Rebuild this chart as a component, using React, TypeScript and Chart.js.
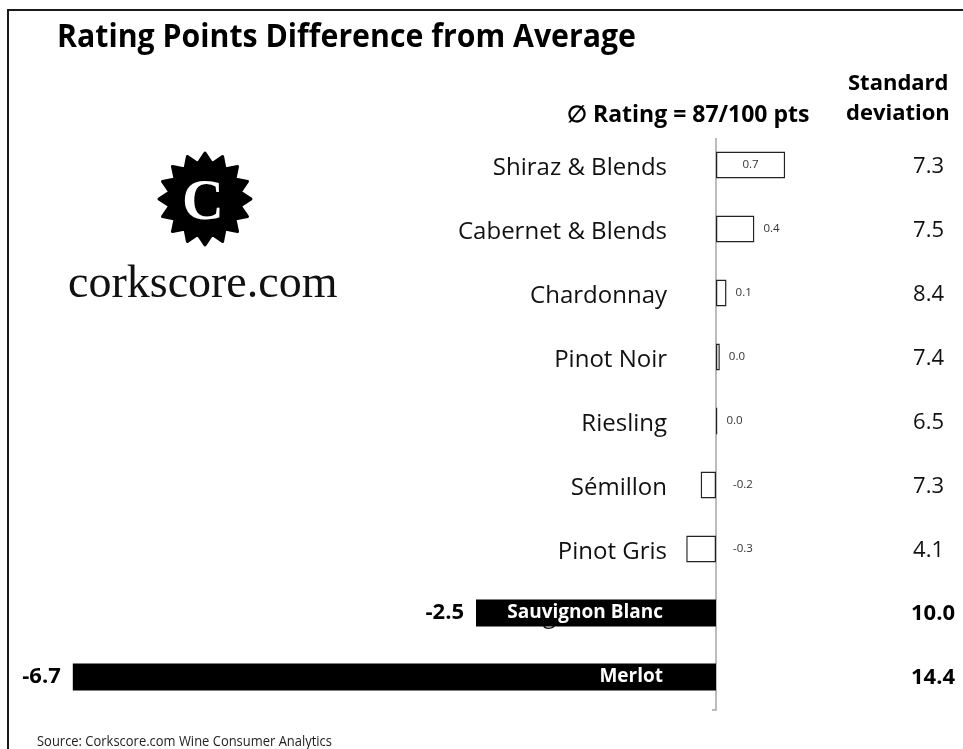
import { useEffect, useRef } from "react";
import { Chart, registerables } from "chart.js";

Chart.register(...registerables);

const categories = [
  "Shiraz & Blends",
  "Cabernet & Blends",
  "Chardonnay",
  "Pinot Noir",
  "Riesling",
  "Sémillon",
  "Pinot Gris",
  "Sauvignon Blanc",
  "Merlot",
];
const diffValues = [0.72, 0.4, 0.11, 0.04, 0.015, -0.16, -0.31, -2.5, -6.7];
const diffLabels = ["0.7", "0.4", "0.1", "0.0", "0.0", "-0.2", "-0.3", "-2.5", "-6.7"];
const stdDevLabels = ["7.3", "7.5", "8.4", "7.4", "6.5", "7.3", "4.1", "10.0", "14.4"];
const titleText = "Rating Points Difference from Average";
const avgHeader = "\u2205 Rating = 87/100 pts";
const sdHeader = ["Standard", "deviation"];
const sourceText = "Source: Corkscore.com Wine Consumer Analytics";
const brandText = "corkscore.com";
const highlightThreshold = -1;

const FONT = '"Open Sans", "Noto Sans", sans-serif';

function drawLogo(ctx: CanvasRenderingContext2D) {
  const cx = 205;
  const cy = 199;
  const teeth = 16;
  const rOut = 46;
  const rIn = 36;
  ctx.save();
  ctx.beginPath();
  for (let i = 0; i < teeth * 2; i++) {
    const a = (Math.PI * i) / teeth - Math.PI / 2;
    const r = i % 2 === 0 ? rOut : rIn;
    const x = cx + r * Math.cos(a);
    const y = cy + r * Math.sin(a);
    if (i === 0) ctx.moveTo(x, y);
    else ctx.lineTo(x, y);
  }
  ctx.closePath();
  ctx.fillStyle = "#000";
  ctx.lineJoin = "round";
  ctx.strokeStyle = "#000";
  ctx.lineWidth = 3;
  ctx.fill();
  ctx.stroke();
  ctx.beginPath();
  ctx.arc(cx, cy, rIn + 2, 0, Math.PI * 2);
  ctx.fill();
  ctx.fillStyle = "#fff";
  ctx.font = 'bold 58px "Liberation Serif", serif';
  ctx.textAlign = "center";
  ctx.textBaseline = "alphabetic";
  ctx.fillText("C", cx - 2, cy + 20);
  ctx.fillStyle = "#111";
  ctx.font = '46px "Liberation Serif", serif';
  ctx.textAlign = "left";
  ctx.fillText(brandText, 68, 297, 274);
  ctx.restore();
}

const decorPlugin = {
  id: "decor",
  beforeDraw(chart: any) {
    const ctx: CanvasRenderingContext2D = chart.ctx;
    const w = chart.width;
    const h = chart.height;
    ctx.save();
    ctx.fillStyle = "#fff";
    ctx.fillRect(0, 0, w, h);
    // frame
    ctx.fillStyle = "#1a1a1a";
    ctx.fillRect(7, 9, w - 7, 2);
    ctx.fillRect(7, 9, 2, h - 9);
    // title
    ctx.fillStyle = "#000";
    ctx.textBaseline = "alphabetic";
    ctx.textAlign = "left";
    ctx.font = `bold 33px ${FONT}`;
    ctx.fillText(titleText, 57, 47, 579);
    // headers
    ctx.font = `bold 23px ${FONT}`;
    ctx.fillText(avgHeader, 567, 122, 245);
    ctx.font = `bold 22px ${FONT}`;
    ctx.fillText(sdHeader[0], 848, 90, 104);
    ctx.fillText(sdHeader[1], 846, 120, 112);
    // source
    ctx.fillStyle = "#222";
    ctx.font = `15px ${FONT}`;
    ctx.fillText(sourceText, 37, 746, 295);
    drawLogo(ctx);
    ctx.restore();
  },
  beforeDatasetsDraw(chart: any) {
    const ctx: CanvasRenderingContext2D = chart.ctx;
    const xs = chart.scales.x;
    const ys = chart.scales.y;
    const x0 = xs.getPixelForValue(0);
    ctx.save();
    ctx.strokeStyle = "#a6a6a6";
    ctx.lineWidth = 1.5;
    ctx.beginPath();
    ctx.moveTo(x0, 138);
    ctx.lineTo(x0, 710);
    ctx.lineTo(x0 - 4, 710);
    ctx.stroke();
    // regular category labels (covered by black bars later)
    ctx.fillStyle = "#111";
    ctx.font = `24px ${FONT}`;
    ctx.textAlign = "right";
    ctx.textBaseline = "alphabetic";
    categories.forEach((c, i) => {
      const y = ys.getPixelForValue(i);
      ctx.fillText(c, 667, y + 10);
    });
    ctx.restore();
  },
  afterDatasetsDraw(chart: any) {
    const ctx: CanvasRenderingContext2D = chart.ctx;
    const xs = chart.scales.x;
    const ys = chart.scales.y;
    const x0 = xs.getPixelForValue(0);
    ctx.save();
    diffValues.forEach((v, i) => {
      const y = ys.getPixelForValue(i);
      const xe = xs.getPixelForValue(v);
      if (v <= highlightThreshold) {
        ctx.fillStyle = "#fff";
        ctx.font = `bold 19px ${FONT}`;
        ctx.textAlign = "right";
        ctx.textBaseline = "middle";
        ctx.fillText(categories[i], 663, y, 158);
        ctx.fillStyle = "#000";
        ctx.font = `bold 22px ${FONT}`;
        ctx.fillText(diffLabels[i], xe - 12, y, 42);
        ctx.textAlign = "right";
        ctx.fillText(stdDevLabels[i], 955, y + 1, 60);
      } else {
        ctx.fillStyle = "#333";
        ctx.font = `11.5px ${FONT}`;
        ctx.textBaseline = "middle";
        if (xe - x0 > 40) {
          ctx.textAlign = "center";
          ctx.fillText(diffLabels[i], (xe + x0) / 2, y);
        } else {
          ctx.textAlign = "left";
          const lx = v >= 0 ? xe + 9 : x0 + 17;
          ctx.fillText(diffLabels[i], lx, y);
        }
        ctx.fillStyle = "#111";
        ctx.font = `22px ${FONT}`;
        ctx.textAlign = "right";
        ctx.textBaseline = "alphabetic";
        ctx.fillText(stdDevLabels[i], 944, y + 8);
      }
    });
    ctx.restore();
  },
};

export default function App() {
  const ref = useRef<HTMLCanvasElement | null>(null);
  useEffect(() => {
    if (!ref.current) return;
    const chart = new Chart(ref.current, {
      type: "bar",
      data: {
        labels: categories,
        datasets: [
          {
            data: diffValues,
            backgroundColor: diffValues.map((v) => (v <= highlightThreshold ? "#000" : "#fff")),
            borderColor: "#222",
            borderWidth: diffValues.map((v) => (v <= highlightThreshold ? 0 : 1.5)),
            borderSkipped: false,
            barPercentage: 0.42,
            categoryPercentage: 1,
          },
        ],
      },
      options: {
        indexAxis: "y",
        responsive: false,
        animation: false,
        devicePixelRatio: 1,
        layout: { padding: { left: 44, right: 7, top: 133, bottom: 40 } },
        scales: {
          x: { type: "linear", min: -7, max: 2.5, display: false },
          y: { display: false },
        },
        plugins: {
          legend: { display: false },
          tooltip: { enabled: false },
        },
      },
      plugins: [decorPlugin],
    } as any);
    return () => chart.destroy();
  }, []);
  return (
    <div style={{ position: "absolute", left: 0, top: 0, width: 963, height: 749 }}>
      <canvas ref={ref} width={963} height={749} style={{ display: "block" }} />
    </div>
  );
}
